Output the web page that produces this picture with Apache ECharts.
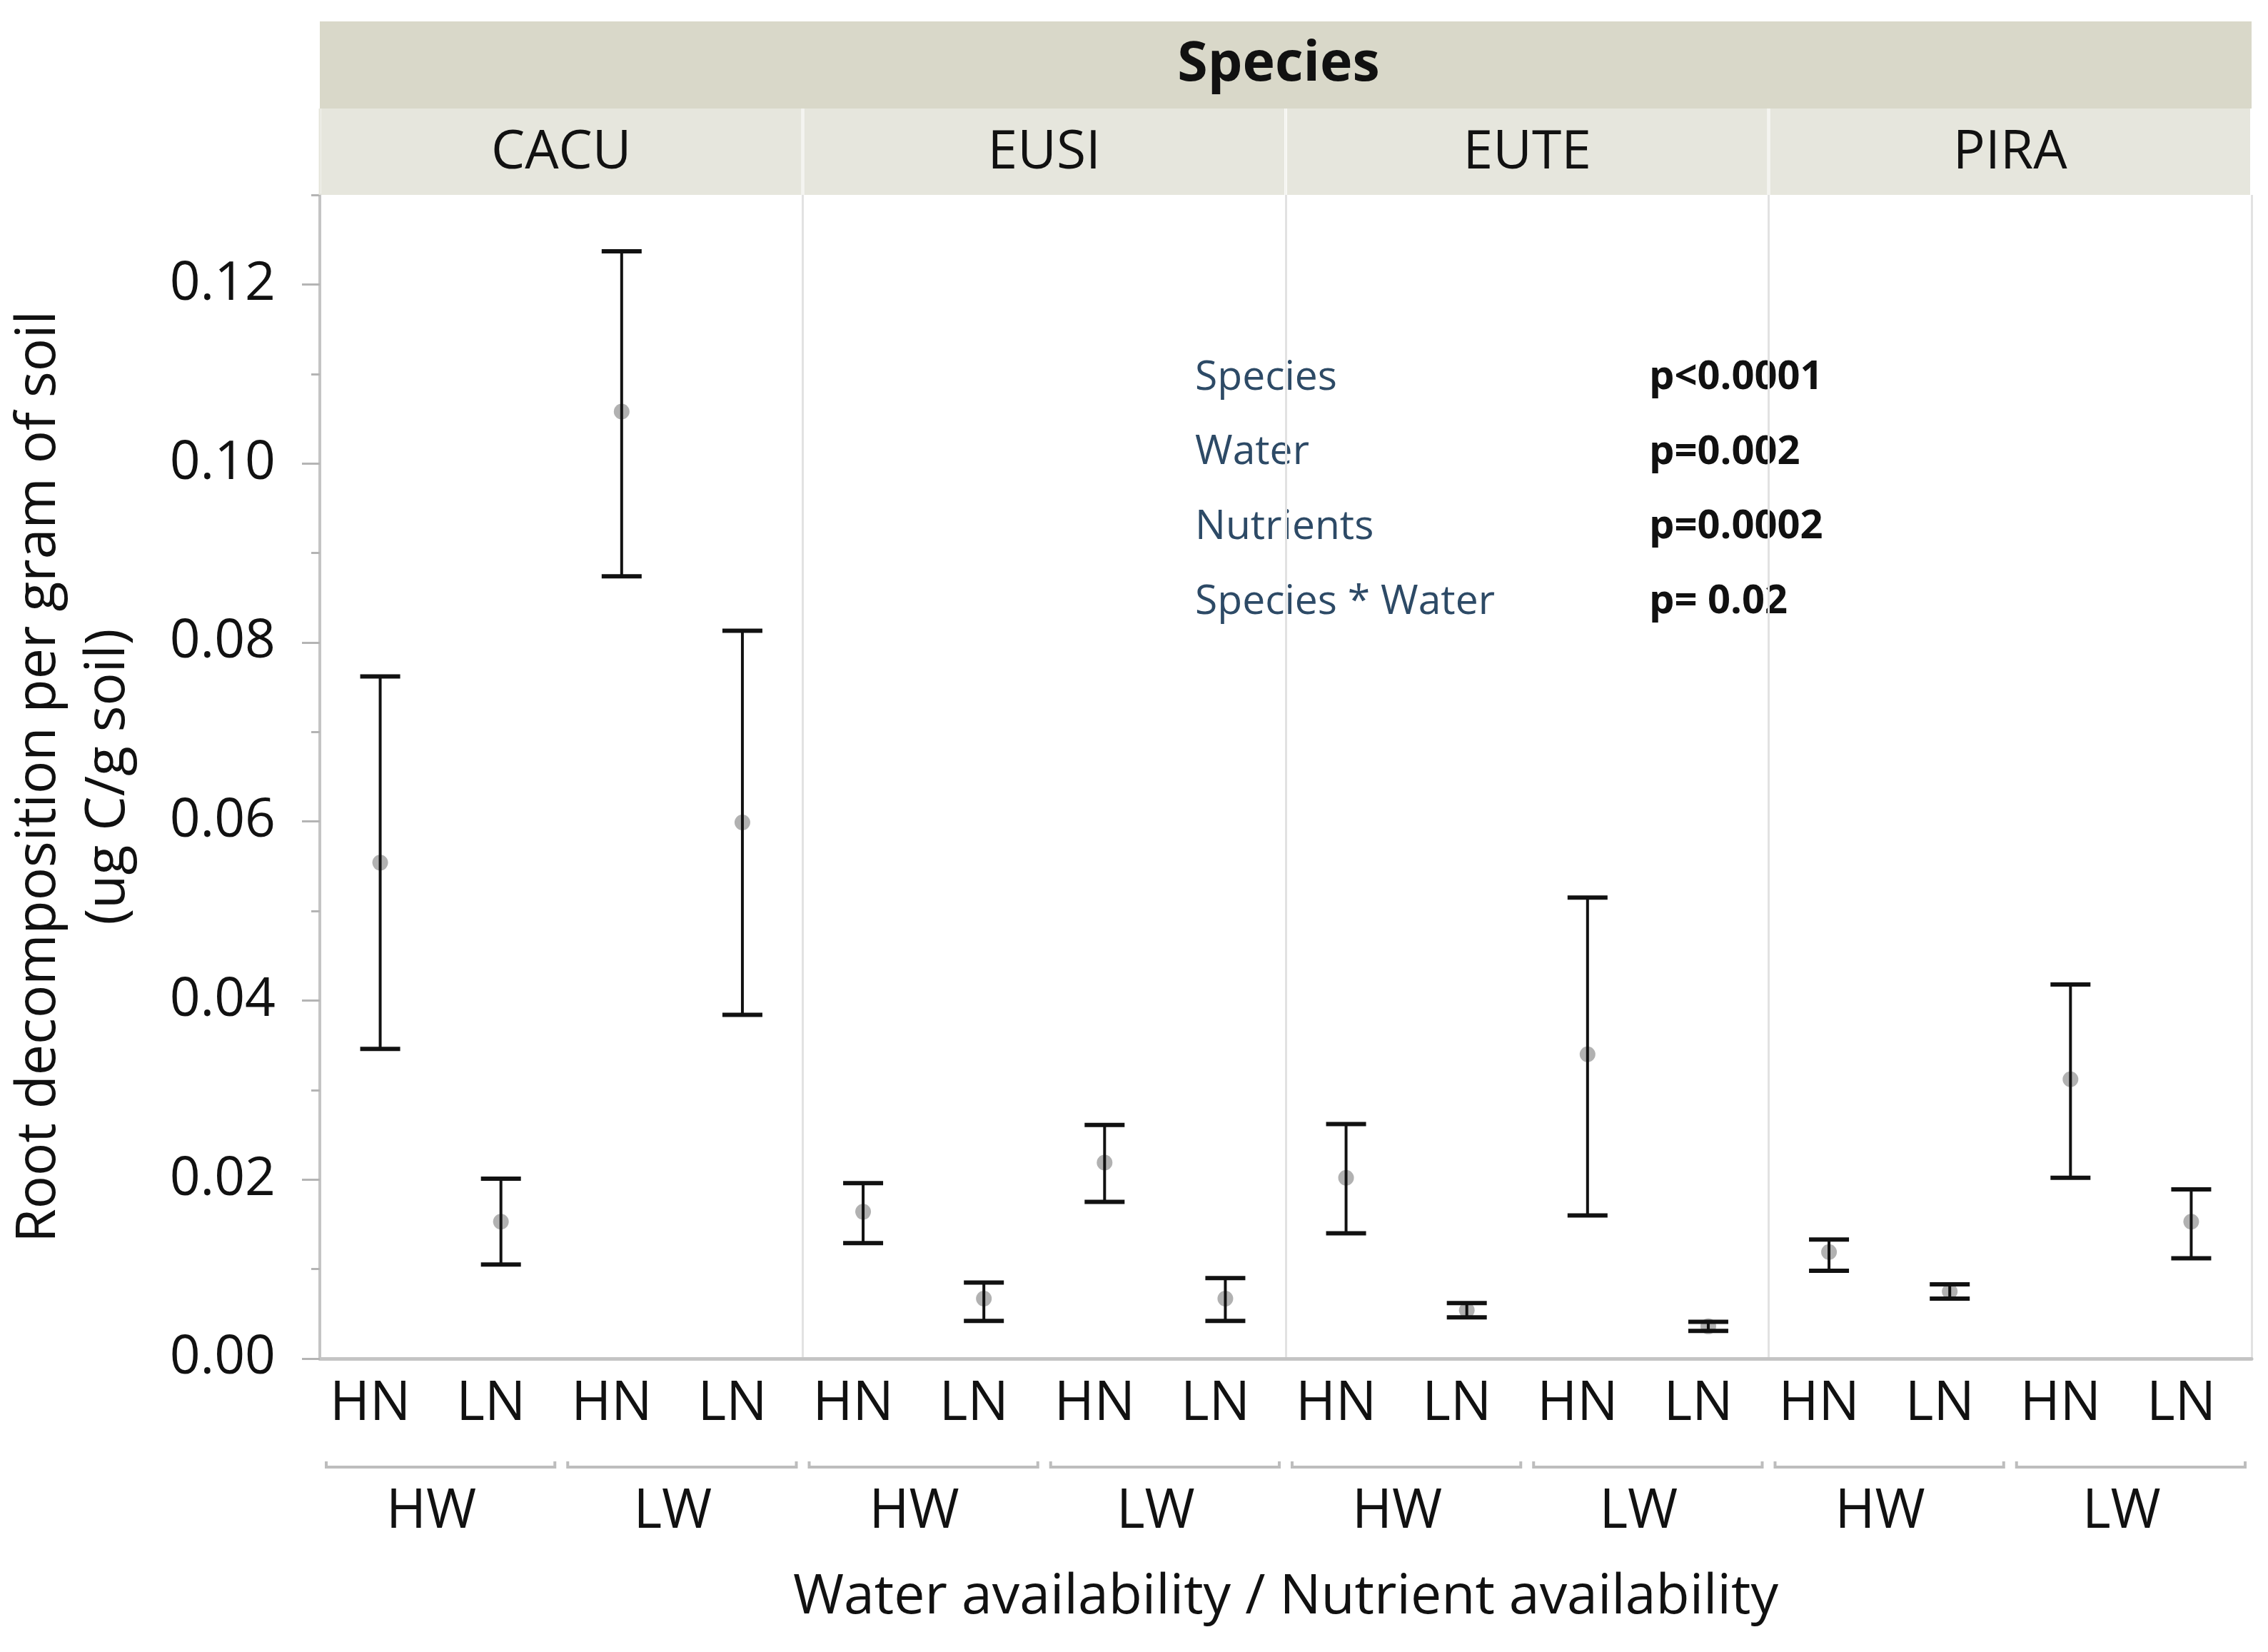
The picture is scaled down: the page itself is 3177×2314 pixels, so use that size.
<!DOCTYPE html>
<html>
<head>
<meta charset="utf-8">
<script src="https://cdn.jsdelivr.net/npm/echarts@6/dist/echarts.min.js"></script>
<style>
  html, body { margin: 0; padding: 0; background: #fff; }
  #chart { width: 3177px; height: 2314px; }
</style>
</head>
<body>
<div id="chart"></div>
<script>
// facets and levels
const species = ["CACU", "EUSI", "EUTE", "PIRA"];
const water = ["HW", "LW"];
const nutrient = ["HN", "LN"];

// order: species > water > nutrient (HW HN, HW LN, LW HN, LW LN)
const means = [0.0554, 0.0153, 0.1058, 0.0599,
               0.0164, 0.0067, 0.0219, 0.0067,
               0.0202, 0.0054, 0.0340, 0.0036,
               0.0119, 0.0075, 0.0312, 0.0153];
const lower = [0.0346, 0.0105, 0.0874, 0.0384,
               0.0129, 0.0042, 0.0175, 0.0042,
               0.0140, 0.0046, 0.0160, 0.0031,
               0.0098, 0.0067, 0.0202, 0.0112];
const upper = [0.0762, 0.0201, 0.1237, 0.0813,
               0.0196, 0.0085, 0.0261, 0.0090,
               0.0262, 0.0062, 0.0515, 0.0041,
               0.0133, 0.0083, 0.0418, 0.0189];

const yMax = 0.13;
const yLabelMax = 0.12;
const yLabelStep = 0.02;
const yMinorStep = 0.01;

const statNames = ["Species", "Water", "Nutrients", "Species * Water"];
const statValues = ["p<0.0001", "p=0.002", "p=0.0002", "p= 0.02"];

// build categories
const nutLabels = [];
const waterLabels = [];
species.forEach(() => {
  water.forEach(w => {
    waterLabels.push(w);
    nutrient.forEach(n => nutLabels.push(n));
  });
});

const FONT = "'Open Sans', 'Noto Sans', sans-serif";
const gridLeft = 448, gridRight = 23, gridTop = 273, gridBottom = 411;
const gridH = 2314 - gridTop - gridBottom;
const grid1Top = gridTop + gridH * (yMax - yLabelMax) / yMax;

const chart = echarts.init(document.getElementById("chart"));

const option = {
  backgroundColor: "#fff",
  animation: false,
  grid: [
    { left: gridLeft, right: gridRight, top: gridTop, bottom: gridBottom, outerBoundsMode: "none" },
    { left: gridLeft, right: gridRight, top: grid1Top, bottom: gridBottom, outerBoundsMode: "none" }
  ],
  xAxis: [
    {
      type: "category",
      gridIndex: 0,
      data: nutLabels,
      boundaryGap: true,
      axisLine: { show: true, lineStyle: { color: "#c4c4c4", width: 5 } },
      axisTick: { show: false },
      axisLabel: {
        interval: 0, fontSize: 76, fontFamily: FONT, color: "#111",
        margin: 26, padding: [0, 28, 0, 0]
      },
      splitLine: {
        show: true,
        interval: (idx) => idx % 4 === 0,
        lineStyle: { color: "#e2e2e2", width: 3 }
      },
      name: "Water availability / Nutrient availability",
      nameLocation: "middle",
      nameGap: 297,
      nameTextStyle: { fontSize: 77, fontFamily: FONT, color: "#111" }
    },
    {
      type: "category",
      gridIndex: 0,
      position: "bottom",
      offset: 150,
      data: waterLabels,
      axisLine: { show: false },
      axisTick: { show: false },
      splitLine: { show: false },
      axisLabel: {
        interval: 0, fontSize: 76, fontFamily: FONT, color: "#111",
        margin: 27, padding: [0, 26, 0, 0]
      }
    },
    {
      type: "category",
      gridIndex: 1,
      data: nutLabels,
      show: false
    }
  ],
  yAxis: [
    {
      type: "value",
      gridIndex: 0,
      min: 0, max: yMax, interval: yMinorStep,
      axisLine: { show: true, lineStyle: { color: "#c4c4c4", width: 4 } },
      axisTick: { show: true, length: 12, lineStyle: { color: "#b4b4b4", width: 3 } },
      axisLabel: { show: false },
      splitLine: { show: false },
      name: "Root decomposition per gram of soil\n(ug C/g soil)",
      nameLocation: "middle",
      nameGap: 247,
      nameTextStyle: { fontSize: 77, fontFamily: FONT, color: "#111", lineHeight: 97 }
    },
    {
      type: "value",
      gridIndex: 1,
      min: 0, max: yLabelMax, interval: yLabelStep,
      axisLine: { show: false },
      axisTick: { show: true, length: 25, lineStyle: { color: "#b4b4b4", width: 3 } },
      axisLabel: {
        fontSize: 75, fontFamily: FONT, color: "#111", margin: 62,
        formatter: (v) => v.toFixed(2)
      },
      splitLine: { show: false }
    }
  ],
  graphic: statNames.flatMap((name, i) => [
    {
      type: "text",
      left: 1674, top: 541 + i * 104.7 - 40,
      style: { text: name, fontSize: 57, fontFamily: FONT, fill: "#2d4a66" }
    },
    {
      type: "text",
      left: 2310, top: 541 + i * 104.7 - 40,
      style: { text: statValues[i], fontSize: 56, fontWeight: "bold", fontFamily: FONT, fill: "#111" }
    }
  ]),
  series: [
    // facet header strips
    {
      type: "custom",
      xAxisIndex: 0, yAxisIndex: 0,
      clip: false,
      silent: true,
      data: [[-1, "Species"]].concat(species.map((s, i) => [i * 4, s])),
      renderItem: (params, api) => {
        const start = api.value(0);
        const band = api.size([1, 0])[0];
        const top = api.coord([0, yMax])[1];
        const name = species[start / 4];
        if (start < 0) {
          const x0 = api.coord([0, 0])[0] - band / 2;
          const w = band * nutLabels.length;
          return {
            type: "group",
            children: [
              { type: "rect", shape: { x: x0, y: top - 243, width: w, height: 122 },
                style: { fill: "#d9d8c9" } },
              { type: "text", style: { text: "Species", x: x0 + w / 2 - 10, y: top - 182,
                  align: "center", verticalAlign: "middle",
                  fontSize: 77, fontWeight: "bold", fontFamily: FONT, fill: "#111" } }
            ]
          };
        }
        const x0 = api.coord([start, 0])[0] - band / 2;
        const w = band * 4;
        return {
          type: "group",
          children: [
            { type: "rect", shape: { x: x0 + 2, y: top - 121, width: w - 4, height: 121 },
              style: { fill: "#e6e6dd" } },
            { type: "rect", shape: { x: x0 - 1.5, y: top - 121, width: 3, height: 121 },
              style: { fill: start === 0 ? "#e6e6dd" : "#f4f4f0" } },
            { type: "text", style: { text: name, x: x0 + w / 2, y: top - 58,
                align: "center", verticalAlign: "middle",
                fontSize: 75, fontFamily: FONT, fill: "#111" } }
          ]
        };
      }
    },
    // water-level brackets under the nutrient labels
    {
      type: "custom",
      xAxisIndex: 0, yAxisIndex: 0,
      clip: false,
      silent: true,
      data: waterLabels.map((w, i) => [i * 2, w]),
      renderItem: (params, api) => {
        const start = api.value(0);
        const band = api.size([1, 0])[0];
        const base = api.coord([start, 0]);
        const x0 = base[0] - band / 2 + 9;
        const x1 = base[0] - band / 2 + band * 2 - 9;
        const y = base[1] + 152;
        return {
          type: "polyline",
          shape: { points: [[x0, y - 8], [x0, y], [x1, y], [x1, y - 8]] },
          style: { stroke: "#bdbdbd", lineWidth: 4, fill: null }
        };
      }
    },
    // means
    {
      type: "scatter",
      xAxisIndex: 0, yAxisIndex: 0,
      symbol: "circle",
      symbolSize: 22,
      z: 2,
      itemStyle: { color: "#a9a9a9", opacity: 0.9 },
      data: means.map((m, i) => [i, m])
    },
    // error bars
    {
      type: "custom",
      xAxisIndex: 0, yAxisIndex: 0,
      z: 3,
      data: means.map((m, i) => [i, lower[i], upper[i]]),
      encode: { x: 0, y: [1, 2] },
      renderItem: (params, api) => {
        const lo = api.coord([api.value(0), api.value(1)]);
        const hi = api.coord([api.value(0), api.value(2)]);
        const cap = 28;
        return {
          type: "group",
          children: [
            { type: "line", shape: { x1: lo[0], y1: lo[1], x2: hi[0], y2: hi[1] },
              style: { stroke: "#111", lineWidth: 4 } },
            { type: "line", shape: { x1: lo[0] - cap, y1: lo[1], x2: lo[0] + cap, y2: lo[1] },
              style: { stroke: "#111", lineWidth: 6 } },
            { type: "line", shape: { x1: hi[0] - cap, y1: hi[1], x2: hi[0] + cap, y2: hi[1] },
              style: { stroke: "#111", lineWidth: 6 } }
          ]
        };
      }
    }
  ]
};

chart.setOption(option);
window.addEventListener("resize", () => chart.resize());
</script>
</body>
</html>
